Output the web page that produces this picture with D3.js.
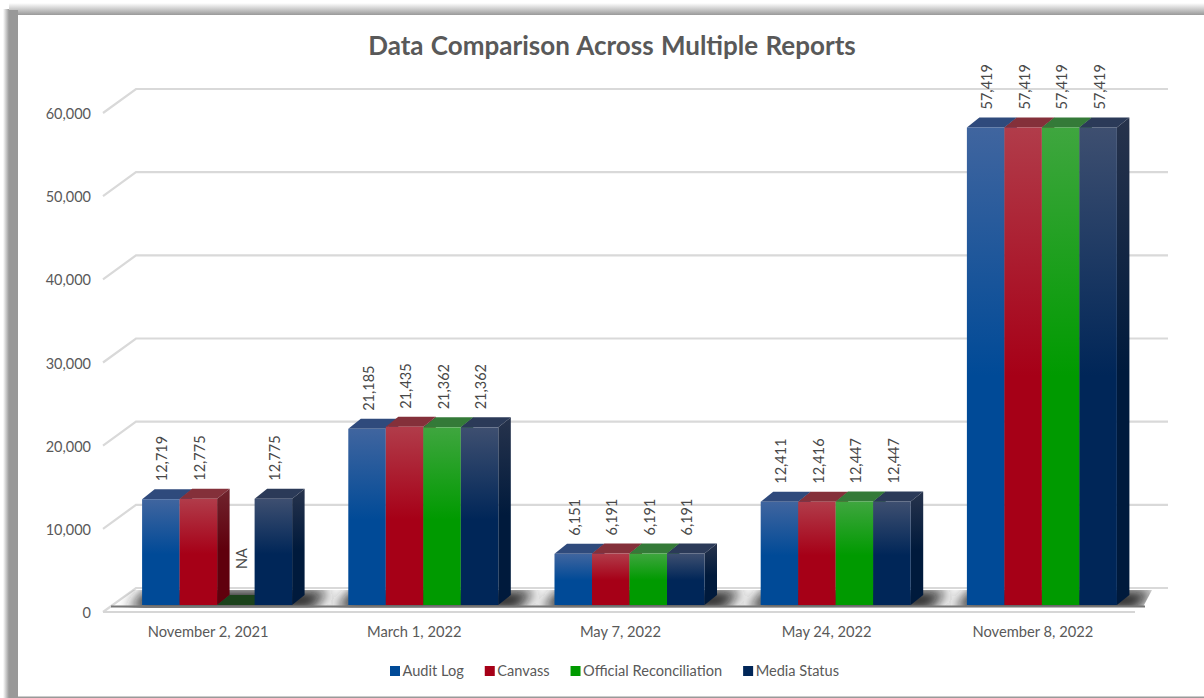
<!DOCTYPE html>
<html>
<head>
<meta charset="utf-8">
<style>
    html, body { margin: 0; padding: 0; background: #fff; overflow: hidden; }
    text { font-family: Lato, "Open Sans", sans-serif; }
</style>
<script src="https://cdn.jsdelivr.net/npm/d3@7"></script>
</head>
<body>
<div id="chart"></div>
<script>
"use strict";

const categories = ["November 2, 2021", "March 1, 2022", "May 7, 2022", "May 24, 2022", "November 8, 2022"];
const seriesNames = ["Audit Log", "Canvass", "Official Reconciliation", "Media Status"];
const auditLog = [12719, 21185, 6151, 12411, 57419];
const canvass = [12775, 21435, 6191, 12416, 57419];
const officialReconciliation = [null, 21362, 6191, 12447, 57419];
const mediaStatus = [12775, 21362, 6191, 12447, 57419];
const yTicks = [0, 10000, 20000, 30000, 40000, 50000, 60000];
const seriesValues = [auditLog, canvass, officialReconciliation, mediaStatus];

// front light, front solid, side light, side solid, top
const palette = [
    ["#40659f", "#004a97", "#23406f", "#002c62", "#2f4a7c"],
    ["#b13c4a", "#a60017", "#70242e", "#60000d", "#84303a"],
    ["#3fa63f", "#009a00", "#26662a", "#005a00", "#347a38"],
    ["#3e4f70", "#002658", "#27334c", "#001a3c", "#2b3a58"]
];
const naFill = "#1b421b";

const width = 1204, height = 698;
const dx = 12.5, dy = 10;        // bar depth
const wallX = 33, wallY = 24;    // side wall of the chart
const barLift = 7;               // bars stand this far behind the floor's front edge

const svg = d3.select("#chart").append("svg")
    .attr("width", width)
    .attr("height", height)
    .style("display", "block");

const defs = svg.append("defs");

const addGrad = (id, x2, y2, stops) => {
    const g = defs.append("linearGradient").attr("id", id)
        .attr("x1", 0).attr("y1", 0).attr("x2", x2).attr("y2", y2);
    stops.forEach(s => g.append("stop").attr("offset", s[0]).attr("stop-color", s[1]));
};

addGrad("frameTop", 0, 1, [[0, "#ffffff"], [1, "#999999"]]);
addGrad("frameLeft", 1, 0, [[0, "#ffffff"], [1, "#999999"]]);

palette.forEach((p, i) => {
    addGrad("front" + i, 0, 1, [[0, p[0]], [0.52, p[1]], [1, p[1]]]);
    addGrad("side" + i, 0, 1, [[0, p[2]], [0.52, p[3]], [1, p[3]]]);
});

defs.append("filter").attr("id", "floorBlur")
    .attr("x", "-30%").attr("y", "-100%").attr("width", "160%").attr("height", "300%")
    .append("feGaussianBlur").attr("stdDeviation", 7);

// picture frame
svg.append("rect").attr("x", 9).attr("y", 3).attr("width", width).attr("height", 12).attr("fill", "url(#frameTop)");
svg.append("rect").attr("x", 3).attr("y", 9).attr("width", 6).attr("height", height).attr("fill", "url(#frameLeft)");
svg.append("rect").attr("x", 9).attr("y", 10).attr("width", 9).attr("height", height).attr("fill", "#999");
svg.append("rect").attr("x", 18).attr("y", 696.5).attr("width", width).attr("height", 1.5).attr("fill", "#999");

const x0 = d3.scaleBand().domain(categories).range([105, 1136]).paddingInner(0.2725).paddingOuter(0.13625);
const x1 = d3.scaleBand().domain(seriesNames).range([0, x0.bandwidth()]);
const y = d3.scaleLinear().domain([0, 60000]).range([612, 113]);

const barShift = 9;
const floorLeft = 103, floorRight = 1135;

svg.append("text")
    .attr("x", 612).attr("y", 55)
    .attr("text-anchor", "middle")
    .attr("font-size", 26).attr("font-weight", 700).attr("fill", "#595959")
    .attr("word-spacing", 1)
    .text("Data Comparison Across Multiple Reports");

// gridlines with the bit that runs up the side wall
const grid = svg.append("g");
grid.selectAll("path").data(yTicks).enter().append("path")
    .attr("fill", "none")
    .attr("stroke", "#d9d9d9")
    .attr("stroke-width", 2.2)
    .attr("d", d => `M${floorLeft},${y(d)}L${floorLeft + wallX},${y(d) - wallY}L${floorRight + wallX},${y(d) - wallY}`);

// floor
const floorPts = [
    [floorLeft + 4, y(0) - 4], [floorLeft + wallX - 3, y(0) - wallY + 2],
    [floorRight + wallX - 16, y(0) - wallY + 2], [floorRight + 8, y(0) - 5]
];
defs.append("clipPath").attr("id", "floorClip")
    .append("polygon").attr("points", floorPts.join(" "));

const floorShade = svg.append("g").attr("clip-path", "url(#floorClip)");
floorShade.append("g").attr("filter", "url(#floorBlur)")
    .selectAll("polygon").data(categories).enter().append("polygon")
    .attr("fill", "#222")
    .attr("points", d => {
        const l = x0(d) + barShift - 14, r = l + x0.bandwidth() + 34;
        return [[l, y(0) - 2], [l + 18, y(0) - 22], [r + 18, y(0) - 22], [r, y(0) - 2]].join(" ");
    });
svg.append("rect")
    .attr("x", floorLeft + 8).attr("y", y(0) - 6.5)
    .attr("width", floorRight - floorLeft + 2).attr("height", 2)
    .attr("fill", "#777");
svg.append("line")
    .attr("x1", floorLeft).attr("x2", floorRight)
    .attr("y1", y(0)).attr("y2", y(0))
    .attr("stroke", "#d6d6d6").attr("stroke-width", 2);

// bars
const bars = svg.append("g");
categories.forEach((cat, c) => {
    seriesNames.forEach((name, s) => {
        const v = seriesValues[s][c];
        const left = x0(cat) + barShift + x1(name);
        const w = x1.bandwidth();
        const bottom = y(0) - barLift;
        const top = y(v === null ? 0 : v) - barLift;
        const g = bars.append("g");

        g.append("polygon")
            .attr("fill", v === null ? naFill : palette[s][4])
            .attr("points", [[left, top], [left + dx, top - dy], [left + w + dx, top - dy], [left + w, top]].join(" "));

        if (v !== null) {
            g.append("polygon")
                .attr("fill", `url(#side${s})`)
                .attr("points", [[left + w, top], [left + w + dx, top - dy], [left + w + dx, bottom - dy], [left + w, bottom]].join(" "));
            g.append("rect")
                .attr("x", left).attr("y", top)
                .attr("width", w).attr("height", bottom - top)
                .attr("fill", `url(#front${s})`);
        }
    });
});

// data labels go on last so the bars never cover them
const labels = svg.append("g");
categories.forEach((cat, c) => {
    seriesNames.forEach((name, s) => {
        const v = seriesValues[s][c];
        const cx = x0(cat) + barShift + x1(name) + x1.bandwidth() / 2 + (v === null ? 6 : 1.5);
        const ly = v === null ? y(0) - 43 : y(v) - barLift - dy - 8;
        labels.append("text")
            .attr("transform", `translate(${cx},${ly}) rotate(-90)`)
            .attr("dy", "0.35em")
            .attr("font-size", 14.5)
            .attr("fill", "#484848")
            .text(v === null ? "NA" : d3.format(",")(v));
    });
});

// axes
const yAxis = svg.append("g")
    .attr("transform", "translate(91,1)")
    .call(d3.axisLeft(y).tickValues(yTicks).tickSize(0).tickPadding(0).tickFormat(d3.format(",")));
yAxis.select(".domain").remove();
yAxis.selectAll("text").attr("font-size", 14.5).attr("fill", "#595959").style("font-family", "Lato");

const xAxis = svg.append("g")
    .attr("transform", "translate(0,628)")
    .call(d3.axisBottom(x0).tickSize(0).tickPadding(0));
xAxis.select(".domain").remove();
xAxis.selectAll("text").attr("font-size", 14.7).attr("fill", "#595959").style("font-family", "Lato").attr("dy", "0.6em");

// legend
let legendX = 390;
const legend = svg.append("g");
seriesNames.forEach((name, s) => {
    legend.append("rect")
        .attr("x", legendX).attr("y", 666)
        .attr("width", 10).attr("height", 10)
        .attr("fill", palette[s][1]);
    const t = legend.append("text")
        .attr("x", legendX + 12.5).attr("y", 676)
        .attr("font-size", 14.6).attr("fill", "#595959")
        .text(name);
    legendX += 12.5 + t.node().getComputedTextLength() + 21;
});
</script>
</body>
</html>
